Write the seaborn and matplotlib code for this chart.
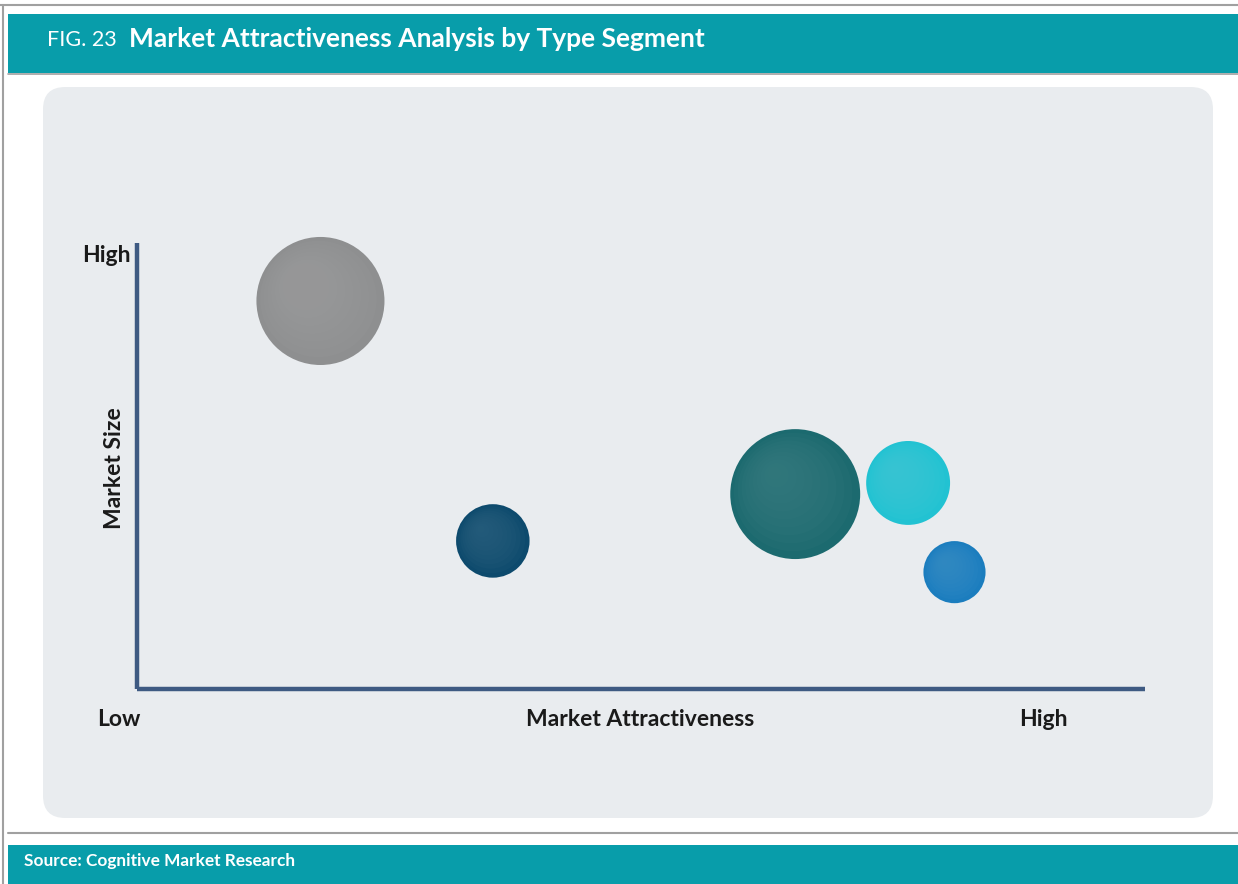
import matplotlib
matplotlib.use("Agg")
import matplotlib.pyplot as plt
import seaborn as sns
import pandas as pd
import numpy as np
from matplotlib.patches import FancyBboxPatch, Rectangle
from matplotlib.lines import Line2D
import matplotlib.colors as mcolors

# ---- data ----
segments = ["Segment A", "Segment B", "Segment C", "Segment D", "Segment E"]
attractiveness = [1.82, 3.53, 6.53, 7.65, 8.11]   # x (0 = Low, 10 = High)
market_size = [8.70, 3.32, 4.37, 4.62, 2.62]       # y (0 = Low, 10 = High)
bubble_value = [8500, 2800, 8750, 3650, 2000]       # relative bubble size
colors = ["#8E8F90", "#0D4A6D", "#1C6A6F", "#22C2D2", "#1B7DBE"]

df = pd.DataFrame({"segment": segments, "x": attractiveness,
                   "y": market_size, "size": bubble_value})

sns.set_theme(style="white")
plt.rcParams["font.family"] = ["Lato", "DejaVu Sans"]

W, H = 1238, 884
fig = plt.figure(figsize=(W / 100, H / 100), dpi=100)
fig.patch.set_facecolor("white")

def fx(px):
    return px / W

def fy(py):
    return 1 - py / H

# frame lines
fig.add_artist(Line2D([fx(0), fx(W)], [fy(5), fy(5)], color="#A0A0A0", lw=1.5))
fig.add_artist(Line2D([fx(3), fx(3)], [fy(5), fy(H)], color="#A0A0A0", lw=1.5))
fig.add_artist(Line2D([fx(8), fx(W)], [fy(833), fy(833)], color="#A0A0A0", lw=1.5))

# header band
teal = "#089DAA"
fig.add_artist(Rectangle((fx(8), fy(73)), fx(W) - fx(8), fy(14) - fy(73),
                         facecolor=teal, edgecolor="none"))
fig.add_artist(Line2D([fx(8), fx(W)], [fy(73.5), fy(73.5)], color="#A0A0A0", lw=1.2))
fig.text(fx(47), fy(40), "FIG. 23", color="white", fontsize=15.5,
         va="center", ha="left")
fig.text(fx(129), fy(39), "Market Attractiveness Analysis by Type Segment",
         color="white", fontsize=19, fontweight="bold", va="center", ha="left")

# footer band
fig.add_artist(Rectangle((fx(8), fy(884)), fx(W) - fx(8), fy(845) - fy(884),
                         facecolor=teal, edgecolor="none"))
fig.text(fx(24), fy(861), "Source: Cognitive Market Research", color="white",
         fontsize=12.4, fontweight="bold", va="center", ha="left")

# chart panel
panel = FancyBboxPatch((fx(43), fy(818)), fx(1213) - fx(43), fy(87) - fy(818),
                       boxstyle="round,pad=0,rounding_size=0.018",
                       facecolor="#E9ECEF", edgecolor="none",
                       transform=fig.transFigure, mutation_aspect=W / H,
                       zorder=-1)
fig.add_artist(panel)

# axes
ax = fig.add_axes([fx(137), fy(689), fx(1145) - fx(137), fy(243) - fy(689)])
ax.set_zorder(2)
ax.set_facecolor("none")
ax.set_xlim(0, 10)
ax.set_ylim(0, 10)

smin, smax = min(bubble_value), max(bubble_value)
sns.scatterplot(data=df, x="x", y="y", hue="segment", size="size",
                palette=dict(zip(segments, colors)),
                sizes=(smin, smax), size_norm=(smin, smax),
                linewidth=0, legend=False, ax=ax, zorder=3, clip_on=False)

# soft highlight layers for a spherical look
n_layers = 10
px_per_unit_x = (1145 - 137) / 10
px_per_unit_y = (689 - 243) / 10
light = {s: mcolors.to_hex(np.array(mcolors.to_rgb(c)) * 0.88 + 0.12)
         for s, c in zip(segments, colors)}
for k in range(1, n_layers + 1):
    f = k / n_layers
    layer = df.copy()
    diam_pt = np.sqrt(layer["size"].values)
    shift_pt = 0.16 * diam_pt * f
    layer["x"] = layer["x"] - shift_pt * (100 / 72) / px_per_unit_x
    layer["y"] = layer["y"] + shift_pt * (100 / 72) / px_per_unit_y
    layer["size"] = layer["size"] * (1 - 0.9 * f) ** 2
    lo, hi = layer["size"].min(), layer["size"].max()
    sns.scatterplot(data=layer, x="x", y="y", hue="segment", size="size",
                    palette=light, sizes=(lo, hi), size_norm=(lo, hi),
                    linewidth=0, legend=False, ax=ax, alpha=0.16,
                    zorder=4, clip_on=False)

sns.despine(ax=ax, top=True, right=True)
for side in ["left", "bottom"]:
    ax.spines[side].set_color("#3E5A82")
    ax.spines[side].set_linewidth(3.2)
    ax.spines[side].set_capstyle("butt")
ax.set_xticks([])
ax.set_yticks([])
ax.set_xlabel("")
ax.set_ylabel("")

lbl = dict(color="#1A1A1A", fontweight="bold", fontsize=16.5)
fig.text(fx(131), fy(255), "High", ha="right", va="center", **lbl)
fig.text(fx(115), fy(468), "Market Size", ha="center", va="center",
         rotation=90, **lbl)
fig.text(fx(119), fy(720), "Low", ha="center", va="center", **lbl)
fig.text(fx(640), fy(720), "Market Attractiveness", ha="center", va="center", **lbl)
fig.text(fx(1043), fy(720), "High", ha="center", va="center", **lbl)

fig.savefig("out.png", dpi=100, facecolor="white")
